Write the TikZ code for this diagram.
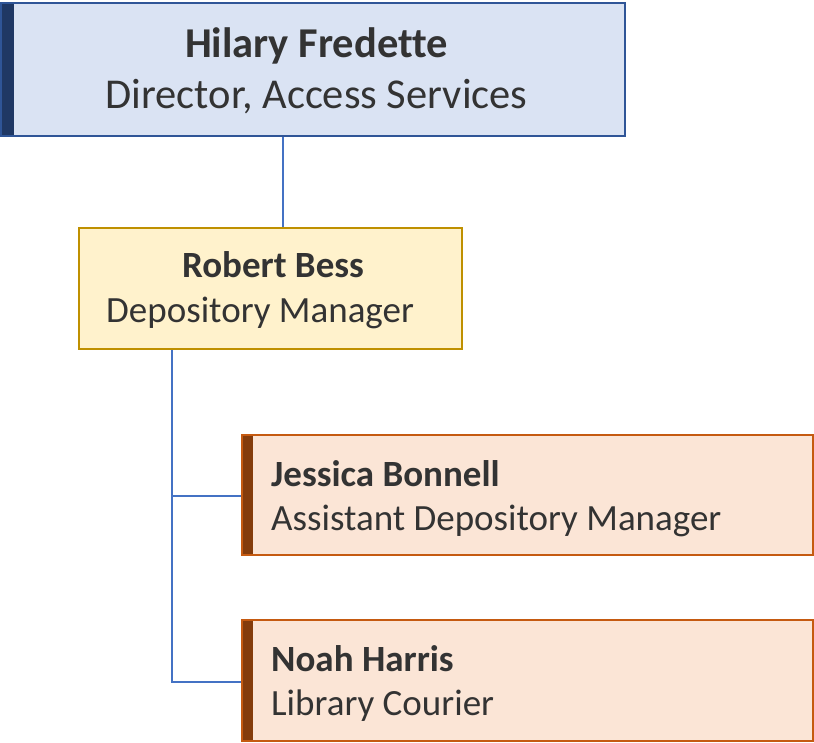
\documentclass[tikz,border=0pt]{standalone}
\usepackage{fontspec}
\setmainfont{Carlito}[Ligatures=NoCommon]
\usetikzlibrary{fit}
\definecolor{txt}{HTML}{333333}
\definecolor{lnk}{HTML}{4472C4}
\definecolor{bfill}{HTML}{DAE3F3}
\definecolor{bdraw}{HTML}{2F5597}
\definecolor{bbar}{HTML}{1F3864}
\definecolor{yfill}{HTML}{FFF2CC}
\definecolor{ydraw}{HTML}{BF9000}
\definecolor{ybar}{HTML}{7F6000}
\definecolor{pfill}{HTML}{FBE5D6}
\definecolor{pdraw}{HTML}{C55A11}
\definecolor{pbar}{HTML}{843C0C}
\tikzset{
  bluecard/.style={draw=bdraw, fill=bfill, line width=1.5pt, inner sep=0pt,
    path picture={\fill[bbar] (path picture bounding box.north west) rectangle ([xshift=13pt]path picture bounding box.south west);}},
  yellowcard/.style={draw=ydraw, fill=yfill, line width=1.5pt, inner sep=0pt,
    path picture={\fill[ybar] (path picture bounding box.north west) rectangle ([xshift=9pt]path picture bounding box.south west);}},
  pinkcard/.style={draw=pdraw, fill=pfill, line width=1.5pt, inner sep=0pt,
    path picture={\fill[pbar] (path picture bounding box.north west) rectangle ([xshift=11pt]path picture bounding box.south west);}},
  lbl/.style={text=txt, inner sep=0pt, font=\fontsize{37}{44}\selectfont},
  lblb/.style={text=txt, inner sep=0pt, font=\fontsize{37}{44}\selectfont\bfseries},
  toplbl/.style={text=txt, inner sep=0pt, font=\fontsize{42.5}{50}\selectfont},
  toplblb/.style={text=txt, inner sep=0pt, font=\fontsize{42.5}{50}\selectfont\bfseries},
  conn/.style={draw=lnk, line width=1.9pt},
}
\begin{document}
\begin{tikzpicture}[x=1pt,y=-1pt]
\useasboundingbox (0,0) rectangle (814,743);
% boxes
\node[bluecard, fit={(1,3) (625,136)}] (top) {};
\node[yellowcard, fit={(79,228) (462,349)}] (rb) {};
\node[pinkcard, fit={(242,435) (813,555)}] (jb) {};
\node[pinkcard, fit={(242,620) (813,741)}] (nh) {};
% texts
\node[toplblb, anchor=base] (topn) at (316.5,58) {Hilary Fredette};
\node[toplbl, anchor=base] (topt) at (316.5,109) {Director, Access Services};
\node[lblb, anchor=base] (rbn) at (273,278) {Robert Bess};
\node[lbl, anchor=base west] (rbt) at (106,323) {Depository Manager};
\node[lblb, anchor=base west] (jbn) at (271,486) {Jessica Bonnell};
\node[lbl, anchor=base west] (jbt) at (271,530) {Assistant Depository Manager};
\node[lblb, anchor=base west] (nhn) at (271,671) {Noah Harris};
\node[lbl, anchor=base west] (nht) at (271,715) {Library Courier};
% connectors
\coordinate (j1) at (172,496);
\coordinate (j2) at (172,682);
\draw[conn] (top.south -| 283,0) -- (rb.north -| 283,0);
\draw[conn] (rb.south -| j1) -- (j2) -- (nh.west |- j2);
\draw[conn] (j1) -- (jb.west |- j1);
\end{tikzpicture}
\end{document}
